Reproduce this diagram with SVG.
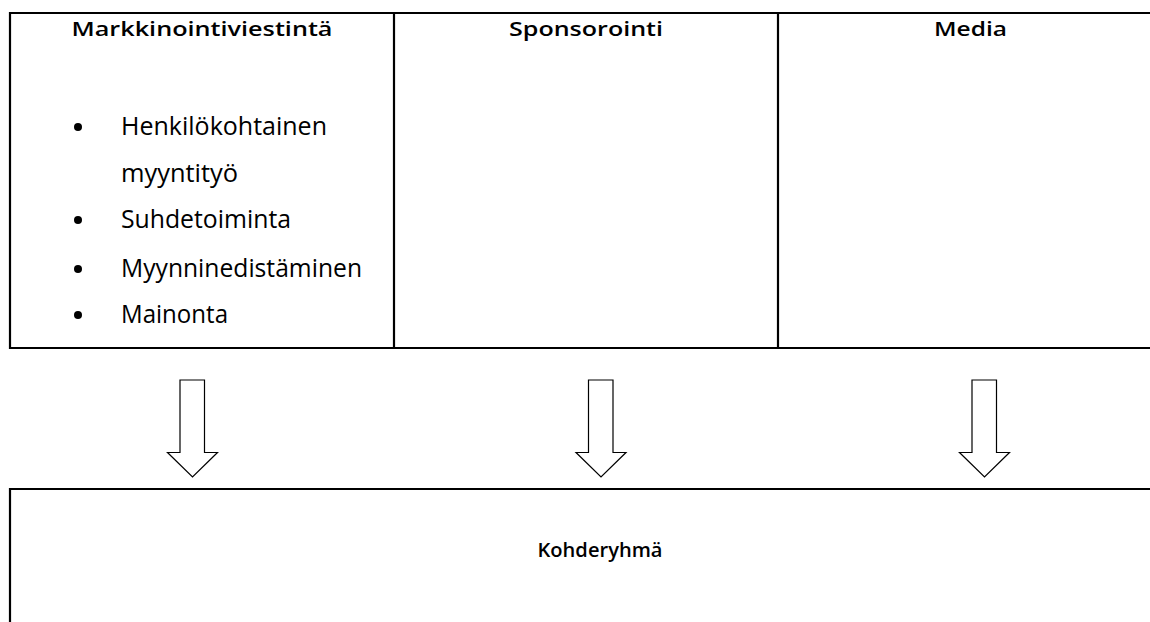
<svg xmlns="http://www.w3.org/2000/svg" width="1150" height="622" viewBox="0 0 1150 622">
<style>
.border{fill:none;stroke:#000;stroke-width:2.2}
.arrow{fill:#fff;stroke:#000;stroke-width:1.2;stroke-linejoin:miter}
.head{font-family:"Open Sans","DejaVu Sans",sans-serif;font-weight:600;font-size:20px;fill:#000}
.body{font-family:"Open Sans","DejaVu Sans",sans-serif;font-size:25.5px;fill:#000}
.bullet{fill:#000}
</style>
<rect width="1150" height="622" fill="#fff"/>
<g id="table">
  <path class="border" d="M10,13 H1152 M10,348 H1152 M10,12 V349 M394,13 V348 M778,13 V348"/>
</g>
<g id="node-markkinointiviestinta">
  <text class="head" x="202" y="36" text-anchor="middle" textLength="261" lengthAdjust="spacingAndGlyphs">Markkinointiviestintä</text>
  <circle class="bullet" cx="78" cy="127" r="4"/>
  <text class="body" x="121" y="135" textLength="206" lengthAdjust="spacingAndGlyphs">Henkilökohtainen</text>
  <text class="body" x="121" y="182" textLength="117" lengthAdjust="spacingAndGlyphs">myyntityö</text>
  <circle class="bullet" cx="78" cy="220" r="4"/>
  <text class="body" x="121" y="228" textLength="170" lengthAdjust="spacingAndGlyphs">Suhdetoiminta</text>
  <circle class="bullet" cx="78" cy="269" r="4"/>
  <text class="body" x="121" y="277" textLength="241" lengthAdjust="spacingAndGlyphs">Myynninedistäminen</text>
  <circle class="bullet" cx="78" cy="315" r="4"/>
  <text class="body" x="121" y="323" textLength="107" lengthAdjust="spacingAndGlyphs">Mainonta</text>
</g>
<g id="node-sponsorointi">
  <text class="head" x="586" y="36" text-anchor="middle" textLength="154" lengthAdjust="spacingAndGlyphs">Sponsorointi</text>
</g>
<g id="node-media">
  <text class="head" x="970.5" y="36" text-anchor="middle" textLength="73" lengthAdjust="spacingAndGlyphs">Media</text>
</g>
<g id="connectors">
  <path class="arrow" d="M180,380 H204.5 V452.5 H217.5 L192.5,477 L167.5,452.5 H180 Z"/>
  <path class="arrow" d="M588.5,380 H613 V452.5 H626 L601,477 L576,452.5 H588.5 Z"/>
  <path class="arrow" d="M972,380 H996.5 V452.5 H1009.5 L984.5,477 L959.5,452.5 H972 Z"/>
</g>
<g id="node-kohderyhma">
  <path class="border" d="M10,489 H1152 M10,488 V624"/>
  <text class="head" x="600" y="557" text-anchor="middle" textLength="125" lengthAdjust="spacingAndGlyphs">Kohderyhmä</text>
</g>
</svg>
